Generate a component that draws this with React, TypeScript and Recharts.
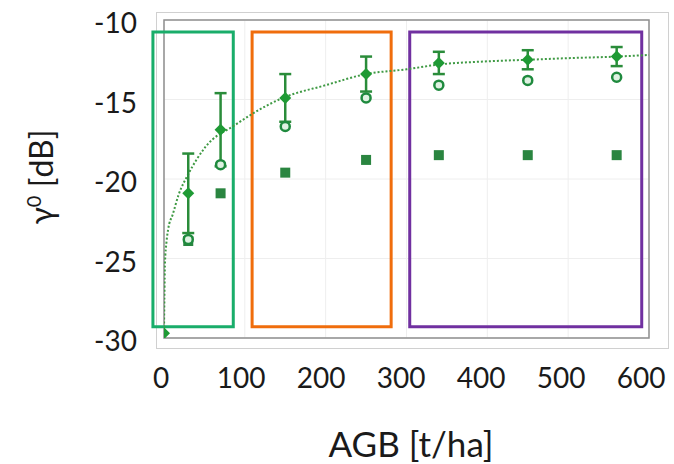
import { ComposedChart, Scatter, Line, XAxis, YAxis, CartesianGrid, ReferenceArea, ErrorBar, Label } from 'recharts'

// AGB sample positions [t/ha]
const agb = [0, 30, 70, 150, 250, 340, 450, 560]
// mean gamma0 with std error bars (filled diamonds)
const meanDb = [-29.7, -20.9, -16.9, -14.9, -13.4, -12.7, -12.5, -12.3]
const meanErr = [0, 2.5, 2.3, 1.5, 1.1, 0.7, 0.6, 0.6]
// open circles and filled squares (from agb[1] on)
const circleDb = [-23.8, -19.1, -16.7, -14.9, -14.1, -13.8, -13.6]
const squareDb = [-23.9, -20.9, -19.6, -18.8, -18.5, -18.5, -18.5]
// fitted curve (dotted)
const fitX = [0, 0.5, 1.2, 3, 5, 11, 18, 30, 51, 88, 147, 200, 250, 300, 340, 400, 450, 500, 560, 600]
const fitY = [-29.6, -27.5, -25.3, -24.0, -23.2, -22.2, -21.0, -19.7, -18.0, -16.6, -14.9, -14.1, -13.4, -13.1, -12.8, -12.6, -12.5, -12.4, -12.3, -12.2]

const xTicks = [0, 100, 200, 300, 400, 500, 600]
const yTicks = [-30, -25, -20, -15, -10]

// highlight boxes: [x1, x2, y1, y2, colour]
const boxes: [number, number, number, number, string][] = [
  [-13.7, 85.7, -10.75, -29.3, '#19ad6a'],
  [109, 281, -10.75, -29.3, '#f06d0c'],
  [304, 591, -10.75, -29.3, '#7030a0'],
]

const meanData = agb.map((x, i) => ({ x, y: meanDb[i], err: meanErr[i] }))
const circleData = agb.slice(1).map((x, i) => ({ x, y: circleDb[i] }))
const squareData = agb.slice(1).map((x, i) => ({ x, y: squareDb[i] }))
const fitData = fitX.map((x, i) => ({ x, y: fitY[i] }))

const FONT = 'Lato, "Open Sans", sans-serif'
const TXT = '#1a1a1a'

// the labels in the source image sit a little left of the inner plot ticks
const XTick = (p: any) => {
  const v = p.payload.value
  return (
    <text x={p.x - 3 - v * 0.008} y={p.y + 50} textAnchor="middle" fontSize={28} fontFamily={FONT} fill={TXT}>
      {v}
    </text>
  )
}

const YTick = (p: any) => (
  <text x={137} y={p.y + 13} textAnchor="end" fontSize={28} fontFamily={FONT} fill={TXT}>
    {p.payload.value}
  </text>
)

const Diamond = (p: any) => (
  <path d={`M${p.cx},${p.cy - 6} L${p.cx + 6},${p.cy} L${p.cx},${p.cy + 6} L${p.cx - 6},${p.cy} Z`} fill="#1f9a35" />
)
const OpenCircle = (p: any) => (
  <circle cx={p.cx} cy={p.cy} r={4.5} fill="#dff2e2" stroke="#1f8a3e" strokeWidth={2.5} />
)
const Square = (p: any) => (
  <rect x={p.cx - 5} y={p.cy - 5} width={10} height={10} fill="#2a8540" />
)

export default function App() {
  return (
    <div style={{ position: 'absolute', left: 0, top: 0, width: 674, height: 464, background: '#fff' }}>
      <div style={{ position: 'absolute', left: 156, top: 12, width: 511, height: 335, border: '1px solid #d0d0d0' }} />
      <ComposedChart width={674} height={464} margin={{ top: 20, right: 25, bottom: 0, left: 0 }}>
        <CartesianGrid stroke="#eeeeee" />
        <XAxis
          type="number"
          dataKey="x"
          domain={[0, 600]}
          ticks={xTicks}
          allowDataOverflow
          axisLine={false}
          tickLine={false}
          tickSize={0}
          tickMargin={0}
          height={126}
          interval={0}
          tick={<XTick />}
        >
          <Label
            content={() => (
              <text x={411} y={457} textAnchor="middle" fontSize={35} fontFamily={FONT} fill={TXT}>
                AGB [t/ha]
              </text>
            )}
          />
        </XAxis>
        <YAxis
          type="number"
          dataKey="y"
          domain={[-30, -10]}
          ticks={yTicks}
          allowDataOverflow
          axisLine={false}
          tickLine={false}
          tickSize={0}
          width={164}
          interval={0}
          tick={<YTick />}
        >
          <Label
            content={() => (
              <text transform="translate(53,177) rotate(-90)" textAnchor="middle" fontSize={32} fontFamily={FONT} fill={TXT}>
                γ<tspan fontSize={20} dy={-12}>0</tspan>
                <tspan dy={12}> [dB]</tspan>
              </text>
            )}
          />
        </YAxis>
        <ReferenceArea x1={0} x2={600} y1={-30} y2={-10} fill="none" stroke="#8f8f8f" strokeWidth={1.5} ifOverflow="visible" />
        <Line
          data={fitData}
          dataKey="y"
          type="monotone"
          stroke="#3f9a44"
          strokeWidth={2}
          strokeDasharray="2 2"
          dot={false}
          isAnimationActive={false}
        />
        <Scatter data={squareData} dataKey="y" shape={<Square />} isAnimationActive={false} />
        <Scatter data={circleData} dataKey="y" shape={<OpenCircle />} isAnimationActive={false} />
        <Scatter data={meanData} dataKey="y" shape={<Diamond />} isAnimationActive={false}>
          <ErrorBar dataKey="err" direction="y" width={6} stroke="#2a8c3a" strokeWidth={2.5} />
        </Scatter>
        {boxes.map((b, i) => (
          <ReferenceArea
            key={i}
            x1={b[0]}
            x2={b[1]}
            y1={b[2]}
            y2={b[3]}
            fill="none"
            stroke={b[4]}
            strokeWidth={3}
            ifOverflow="visible"
          />
        ))}
      </ComposedChart>
    </div>
  )
}
